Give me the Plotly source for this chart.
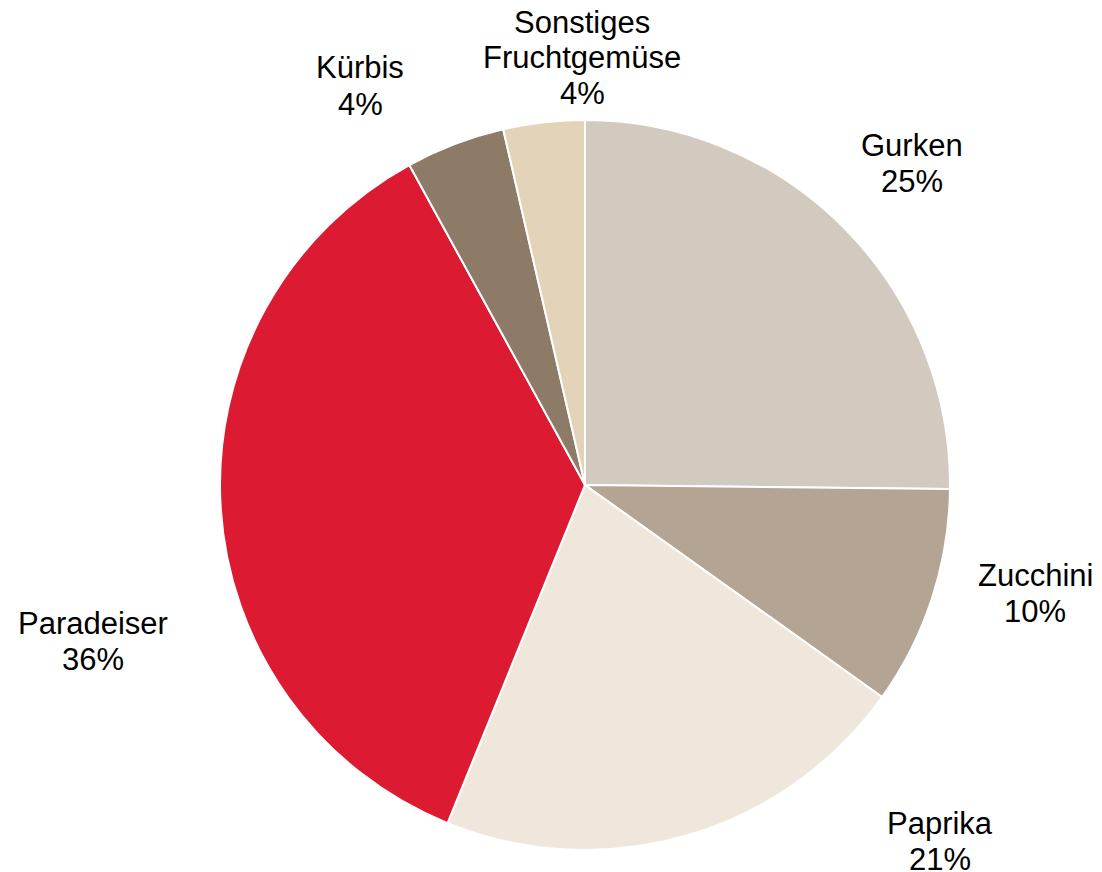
import plotly.graph_objects as go

# Anteile Fruchtgemüse (Prozent, aus der Grafik geschätzt)
categories = ["Gurken", "Zucchini", "Paprika", "Paradeiser", "Kürbis", "Sonstiges<br>Fruchtgemüse"]
values = [25.2, 9.7, 21.3, 35.9, 4.4, 3.6]
colors = ["#D2C9BF", "#B3A494", "#EFE7DB", "#DC1A31", "#8D7B68", "#E3D3B8"]

# label block positions in page pixels (centre x, first line y)
label_pos = [(912, 145), (1035, 575), (940, 823), (93, 623), (360, 68), (582, 22)]

# the page body has an 8px margin, so work in page pixels and shift
OFF = 8
W, H = 1102 - OFF, 872 - OFF
cx, cy, r = 585 - OFF, 485 - OFF, 365

fig = go.Figure(go.Pie(
    labels=categories,
    values=values,
    sort=False,
    direction="clockwise",
    rotation=0,
    marker=dict(colors=colors, line=dict(color="white", width=2)),
    textinfo="none",
    hoverinfo="label+percent",
    domain=dict(x=[(cx - r) / W, (cx + r) / W], y=[(H - cy - r) / H, (H - cy + r) / H]),
    showlegend=False,
))

total = sum(values)
annotations = []
for cat, val, (lx, ly) in zip(categories, values, label_pos):
    lines = cat.split("<br>") + [f"{round(val / total * 100)}%"]
    for i, line in enumerate(lines):
        annotations.append(dict(
            x=(lx - OFF) / W, y=1 - (ly - OFF + i * 36) / H,
            xref="paper", yref="paper",
            text=line, showarrow=False,
            xanchor="center", yanchor="middle",
            font=dict(family="Liberation Sans, Arial", size=31, color="black"),
        ))

fig.update_layout(
    width=W, height=H,
    margin=dict(l=0, r=0, t=0, b=0),
    paper_bgcolor="white",
    plot_bgcolor="white",
    annotations=annotations,
)

fig.write_html("out.html")
